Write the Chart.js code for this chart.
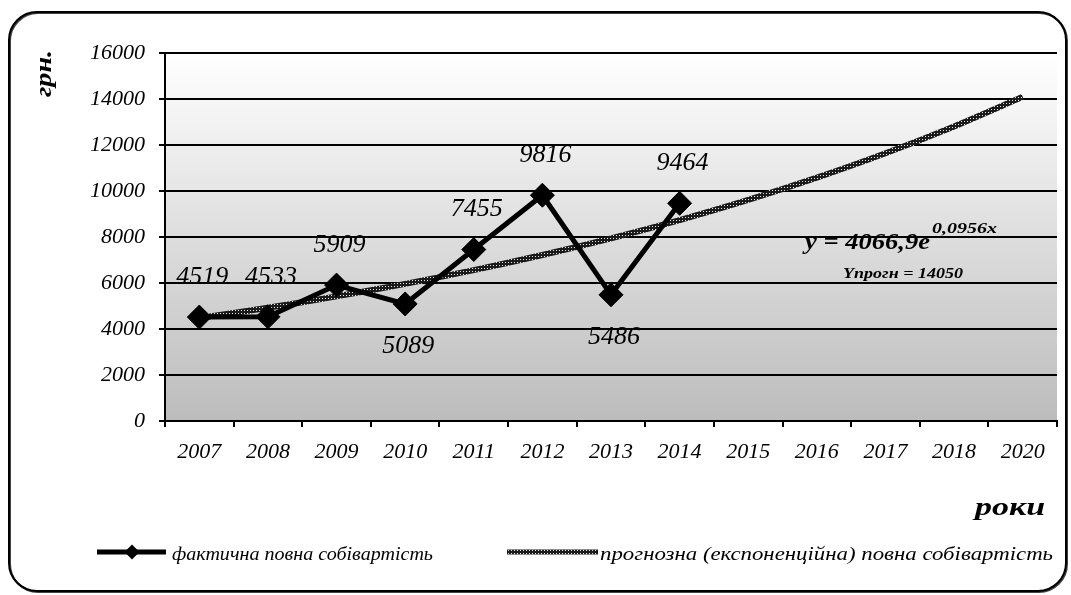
<!DOCTYPE html>
<html><head><meta charset="utf-8">
<script src="https://cdn.jsdelivr.net/npm/chart.js@4/dist/chart.umd.min.js"></script>
<style>html,body{margin:0;padding:0;background:#fff;}canvas{display:block;}</style>
</head><body>
<canvas id="c" width="1071" height="595"></canvas>
<script>
// ---- data ----
const years = ['2007','2008','2009','2010','2011','2012','2013','2014','2015','2016','2017','2018','2020'];
const actual = [4519, 4533, 5909, 5089, 7455, 9816, 5486, 9464];
const trend = [4475, 4924, 5418, 5961, 6559, 7217, 7941, 8738, 9614, 10579, 11640, 12808, 14093];
const labelSide = ['above','above','above','below','above','above','below','above'];
const yMin = 0, yMax = 16000, yStep = 2000;
const seriesNames = ['фактична повна собівартість', 'прогнозна (експоненційна) повна собівартість'];
const yTitle = 'грн.';
const xTitle = 'роки';
const eqMain = 'y = 4066,9e';
const eqSup = '0,0956x';
const forecastText = 'Yпрогн = 14050';

const SERIF = "'Liberation Serif', 'Times New Roman', serif";

// pattern for the trend line
function makePattern(ctx) {
  const p = document.createElement('canvas');
  p.width = 3; p.height = 3;
  const g = p.getContext('2d');
  g.fillStyle = '#1a1a1a'; g.fillRect(0, 0, 3, 3);
  g.fillStyle = '#e6e6e6'; g.fillRect(1, 1, 1, 1);
  return ctx.createPattern(p, 'repeat');
}

function fitText(ctx, text, x, y, w, font) {
  ctx.font = font;
  const m = ctx.measureText(text).width;
  const s = w / m;
  ctx.save();
  ctx.translate(x, y);
  ctx.scale(s, 1);
  ctx.textAlign = 'left';
  ctx.fillText(text, 0, 0);
  ctx.restore();
}

function roundRect(ctx, x, y, w, h, r) {
  ctx.beginPath();
  ctx.moveTo(x + r, y);
  ctx.lineTo(x + w - r, y);
  ctx.arcTo(x + w, y, x + w, y + r, r);
  ctx.lineTo(x + w, y + h - r);
  ctx.arcTo(x + w, y + h, x + w - r, y + h, r);
  ctx.lineTo(x + r, y + h);
  ctx.arcTo(x, y + h, x, y + h - r, r);
  ctx.lineTo(x, y + r);
  ctx.arcTo(x, y, x + r, y, r);
  ctx.closePath();
}

const canvas = document.getElementById('c');
const ctx0 = canvas.getContext('2d');
const pattern = makePattern(ctx0);

const decor = {
  id: 'decor',
  beforeDraw(chart) {
    const { ctx, chartArea: a } = chart;
    ctx.save();
    const g = ctx.createLinearGradient(0, a.top, 0, a.bottom);
    g.addColorStop(0, '#ffffff');
    g.addColorStop(1, '#bcbcbc');
    ctx.fillStyle = g;
    ctx.fillRect(a.left, a.top, a.right - a.left, a.bottom - a.top);
    ctx.restore();
  },
  afterDatasetsDraw(chart) {
    const { ctx } = chart;
    const meta = chart.getDatasetMeta(0);
    ctx.save();
    ctx.fillStyle = '#000';
    ctx.font = `italic 26px ${SERIF}`;
    ctx.textAlign = 'center';
    ctx.textBaseline = 'middle';
    meta.data.forEach((pt, i) => {
      if (actual[i] == null) return;
      const dy = labelSide[i] === 'below' ? 42 : -40;
      ctx.fillText(String(actual[i]), pt.x + 3, pt.y + dy);
    });
    ctx.restore();
  },
  afterDraw(chart) {
    const { ctx } = chart;
    ctx.save();
    // outer rounded border with slight shadow
    ctx.strokeStyle = '#444';
    ctx.lineWidth = 2;
    roundRect(ctx, 10, 13, 1057, 579, 28);
    ctx.stroke();
    ctx.strokeStyle = '#000';
    ctx.lineWidth = 2;
    roundRect(ctx, 9, 12, 1057, 579, 28);
    ctx.stroke();

    ctx.fillStyle = '#000';
    ctx.textBaseline = 'alphabetic';
    // y title (rotated)
    ctx.save();
    ctx.translate(51, 97);
    ctx.rotate(-Math.PI / 2);
    fitText(ctx, yTitle, 0, 0, 47, `italic bold 24px ${SERIF}`);
    ctx.restore();
    // x title
    fitText(ctx, xTitle, 975, 515, 70, `italic bold 25px ${SERIF}`);
    // equation
    fitText(ctx, eqMain, 805, 249, 125, `italic bold 23px ${SERIF}`);
    fitText(ctx, eqSup, 932, 233, 65, `italic bold 15px ${SERIF}`);
    fitText(ctx, forecastText, 843, 278, 120, `italic bold 15px ${SERIF}`);

    // legend
    ctx.strokeStyle = '#000';
    ctx.lineWidth = 5;
    ctx.beginPath(); ctx.moveTo(97, 552); ctx.lineTo(166, 552); ctx.stroke();
    ctx.beginPath();
    ctx.moveTo(132 - 7.5, 552); ctx.lineTo(132, 544.5); ctx.lineTo(139.5, 552); ctx.lineTo(132, 559.5);
    ctx.closePath(); ctx.fillStyle = '#000'; ctx.fill();
    fitText(ctx, seriesNames[0], 172, 560, 261, `italic 19px ${SERIF}`);

    ctx.strokeStyle = pattern;
    ctx.lineWidth = 5;
    ctx.beginPath(); ctx.moveTo(507, 552); ctx.lineTo(598, 552); ctx.stroke();
    fitText(ctx, seriesNames[1], 600, 560, 453, `italic 19px ${SERIF}`);
    ctx.restore();
  }
};

const tickFont = { family: SERIF, style: 'italic', size: 22 };

new Chart(canvas, {
  type: 'line',
  data: {
    labels: years,
    datasets: [
      {
        label: seriesNames[0],
        data: actual,
        borderColor: '#000',
        backgroundColor: '#000',
        borderWidth: 5,
        pointStyle: 'rectRot',
        pointRadius: 12,
        pointHoverRadius: 12,
        pointBackgroundColor: '#000',
        pointBorderColor: '#000',
        pointBorderWidth: 1,
        tension: 0,
        order: 0
      },
      {
        label: seriesNames[1],
        data: trend,
        borderColor: pattern,
        borderWidth: 6,
        pointRadius: 0,
        tension: 0.3,
        order: 1
      }
    ]
  },
  options: {
    responsive: false,
    animation: false,
    devicePixelRatio: 1,
    layout: { padding: { left: 0, right: 14, top: 53, bottom: 114 } },
    plugins: { legend: { display: false }, tooltip: { enabled: false } },
    scales: {
      x: {
        offset: true,
        grid: { offset: true, drawOnChartArea: false, color: '#000', lineWidth: 2, tickLength: 6 },
        border: { color: '#000', width: 2 },
        ticks: { color: '#000', font: tickFont, padding: 12, maxRotation: 0, autoSkip: false },
        afterFit(s) { s.height = 60; }
      },
      y: {
        min: yMin, max: yMax,
        grid: { color: '#000', lineWidth: 2, tickLength: 6 },
        border: { color: '#000', width: 2 },
        ticks: { color: '#000', font: tickFont, padding: 14, stepSize: yStep, callback: v => String(v) },
        afterFit(s) { s.width = 165; }
      }
    }
  },
  plugins: [decor]
});
</script>
</body></html>
